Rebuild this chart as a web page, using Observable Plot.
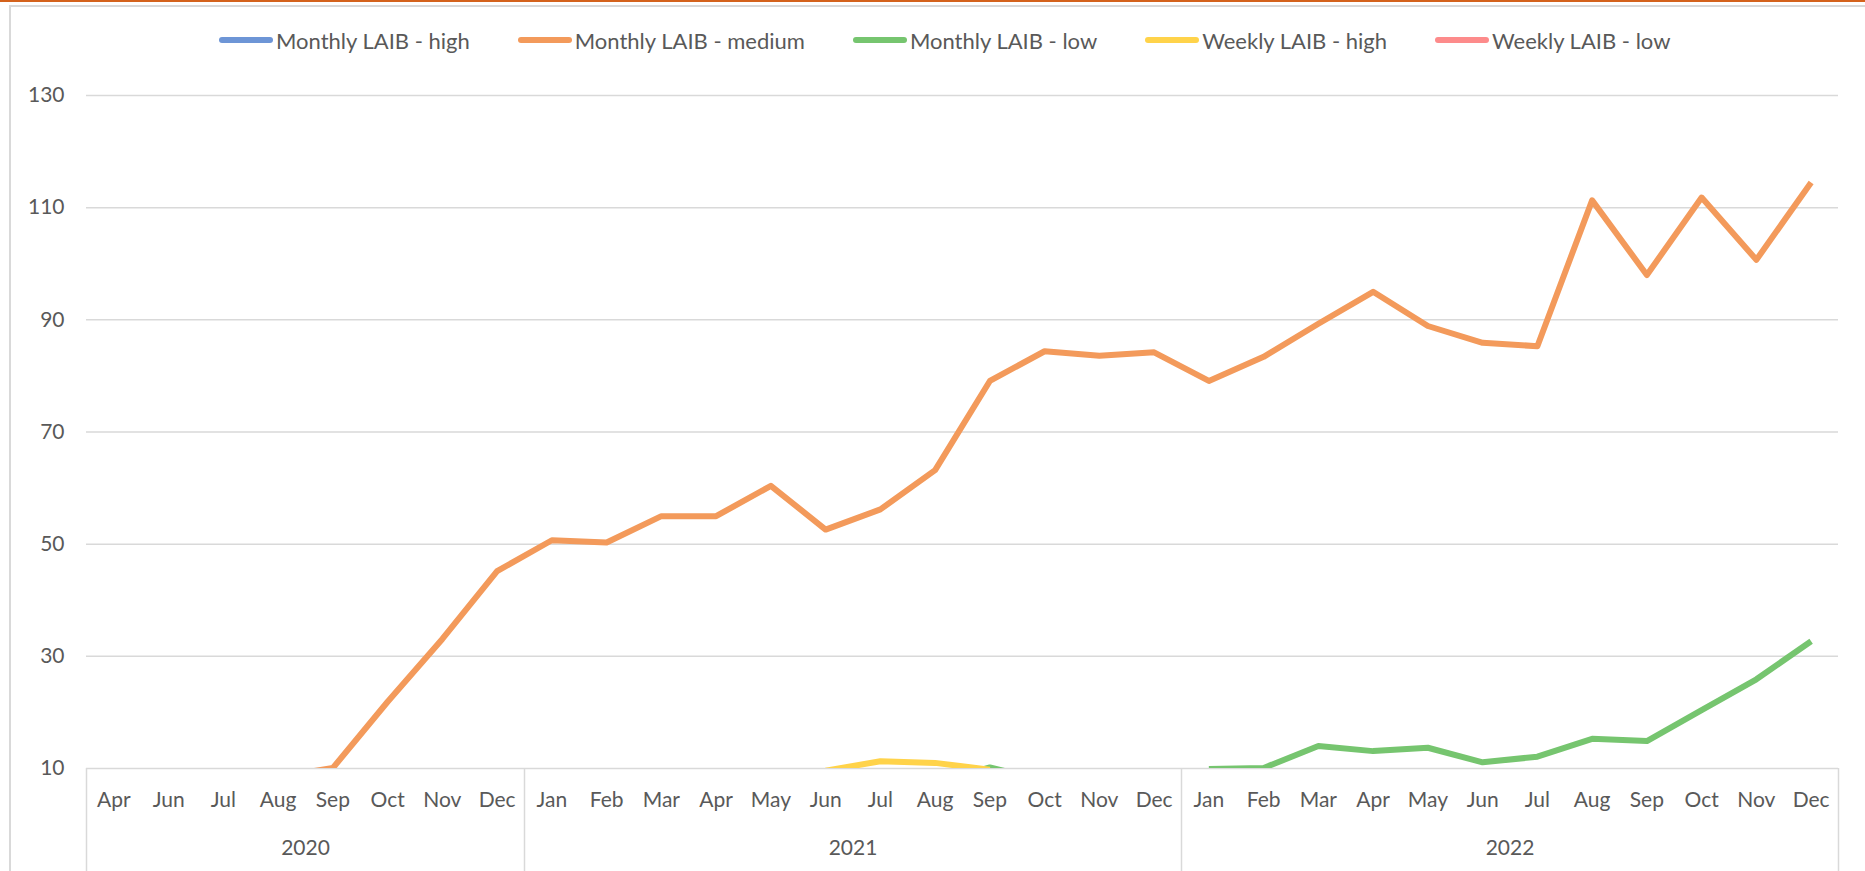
<!DOCTYPE html>
<html><head><meta charset="utf-8">
<script src="https://cdn.jsdelivr.net/npm/d3@7"></script>
<script src="https://cdn.jsdelivr.net/npm/@observablehq/plot@0.6"></script>
<style>
html,body{margin:0;padding:0;background:#fff;}
#wrap{position:relative;width:1865px;height:871px;overflow:hidden;background:#fff;font-family:Lato,"Open Sans",sans-serif;}
#topbar{position:absolute;left:0;top:0;width:1865px;height:2px;background:#d4621c;}
#frame{position:absolute;left:9px;top:5px;width:1900px;height:900px;border-left:2px solid #d9d9d9;border-top:2px solid #d9d9d9;}
#legend{position:absolute;top:28px;left:219px;display:flex;align-items:center;height:24px;font-size:22px;color:#595959;white-space:nowrap;}
.item{display:flex;align-items:center;margin-right:48px;}
.sw{width:54px;height:6px;border-radius:3px;margin-right:3px;}
#chart{position:absolute;left:0;top:70px;}
</style></head><body>
<div id="wrap"><div id="topbar"></div><div id="frame"></div><div id="legend"></div><div id="chart"></div></div>
<script>
// Category axis: months (two-level axis with years)
const months = ["Apr","Jun","Jul","Aug","Sep","Oct","Nov","Dec",
  "Jan","Feb","Mar","Apr","May","Jun","Jul","Aug","Sep","Oct","Nov","Dec",
  "Jan","Feb","Mar","Apr","May","Jun","Jul","Aug","Sep","Oct","Nov","Dec"];
const years = ["2020","2021","2022"];
const yearCounts = [8, 12, 12];
const yTicks = [10, 30, 50, 70, 90, 110, 130];

// Series (values below the axis minimum of 10 are clipped away in the chart)
const seriesNames = ["Monthly LAIB - high","Monthly LAIB - medium","Monthly LAIB - low","Weekly LAIB - high","Weekly LAIB - low"];
const seriesColors = ["#6d95d6","#f39a5b","#76c56f","#ffd34a","#fd8b8b"];

const monthlyHigh = []; // entirely below the axis minimum
const monthlyMedium = [null,null,null,8.5,10.1,21.9,33.1,45.2,
  50.7,50.3,55.0,55.0,60.4,52.6,56.2,63.2,79.1,84.4,83.6,84.2,
  79.1,83.4,89.3,95.0,88.9,85.9,85.3,111.3,98.0,111.8,100.7,114.5];
const monthlyLow = [null,null,null,null,null,null,null,null,
  null,null,null,null,null,null,null,7.5,10.2,7.8,null,null,
  9.9,10.1,14.0,13.1,13.7,11.1,12.1,15.3,14.9,20.4,25.9,32.7];
const weeklyHigh = [null,null,null,null,null,null,null,null,
  null,null,null,null,null,9.6,11.3,11.0,9.8,null,null,null,
  null,null,null,null,null,null,null,null,null,null,null,null];
const weeklyLow = []; // entirely below the axis minimum

const seriesValues = [monthlyHigh, monthlyMedium, monthlyLow, weeklyHigh, weeklyLow];

// Build table
const rows = [];
seriesValues.forEach((vals, s) => vals.forEach((v, i) => rows.push({i, v, name: seriesNames[s]})));

// Year group boundaries and centers
const boundaries = [-0.5];
const yearCenters = [];
let start = 0;
yearCounts.forEach(c => { yearCenters.push(start + (c - 1) / 2); start += c; boundaries.push(start - 0.5); });

// Legend
const legend = document.getElementById("legend");
seriesNames.forEach((n, k) => {
  const it = document.createElement("div"); it.className = "item";
  const sw = document.createElement("div"); sw.className = "sw"; sw.style.background = seriesColors[k];
  const t = document.createElement("span"); t.textContent = n;
  it.appendChild(sw); it.appendChild(t); legend.appendChild(it);
});

const font = "Lato, 'Open Sans', sans-serif";
const chart = Plot.plot({
  width: 1865, height: 801,
  marginLeft: 86, marginRight: 27, marginTop: 25, marginBottom: 103,
  style: {fontFamily: font, fontSize: "21px", color: "#595959", background: "transparent", overflow: "visible"},
  x: {type: "linear", domain: [-0.5, months.length - 0.5], label: null},
  y: {domain: [10, 130], label: null},
  color: {domain: seriesNames, range: seriesColors},
  marks: [
    Plot.ruleY(yTicks, {stroke: "#d9d9d9", strokeWidth: 1.5}),
    Plot.axisY({ticks: yTicks, tickSize: 0, tickPadding: 22, fill: "#595959", fontSize: 21, label: null}),
    Plot.axisX({ticks: boundaries, tickSize: 103, tickFormat: () => "", stroke: "#d9d9d9", strokeWidth: 1.5, label: null}),
    Plot.text(months, {x: (d, i) => i, frameAnchor: "bottom", dy: 38, text: d => d, fill: "#595959", fontSize: 21}),
    Plot.text(years, {x: (d, i) => yearCenters[i], frameAnchor: "bottom", dy: 86, text: d => d, fill: "#595959", fontSize: 21}),
    Plot.line(rows, {x: "i", y: "v", z: "name", stroke: "name", strokeWidth: 6, clip: true, strokeLinejoin: "round", strokeLinecap: "butt"})
  ]
});
document.getElementById("chart").appendChild(chart);
</script></body></html>
